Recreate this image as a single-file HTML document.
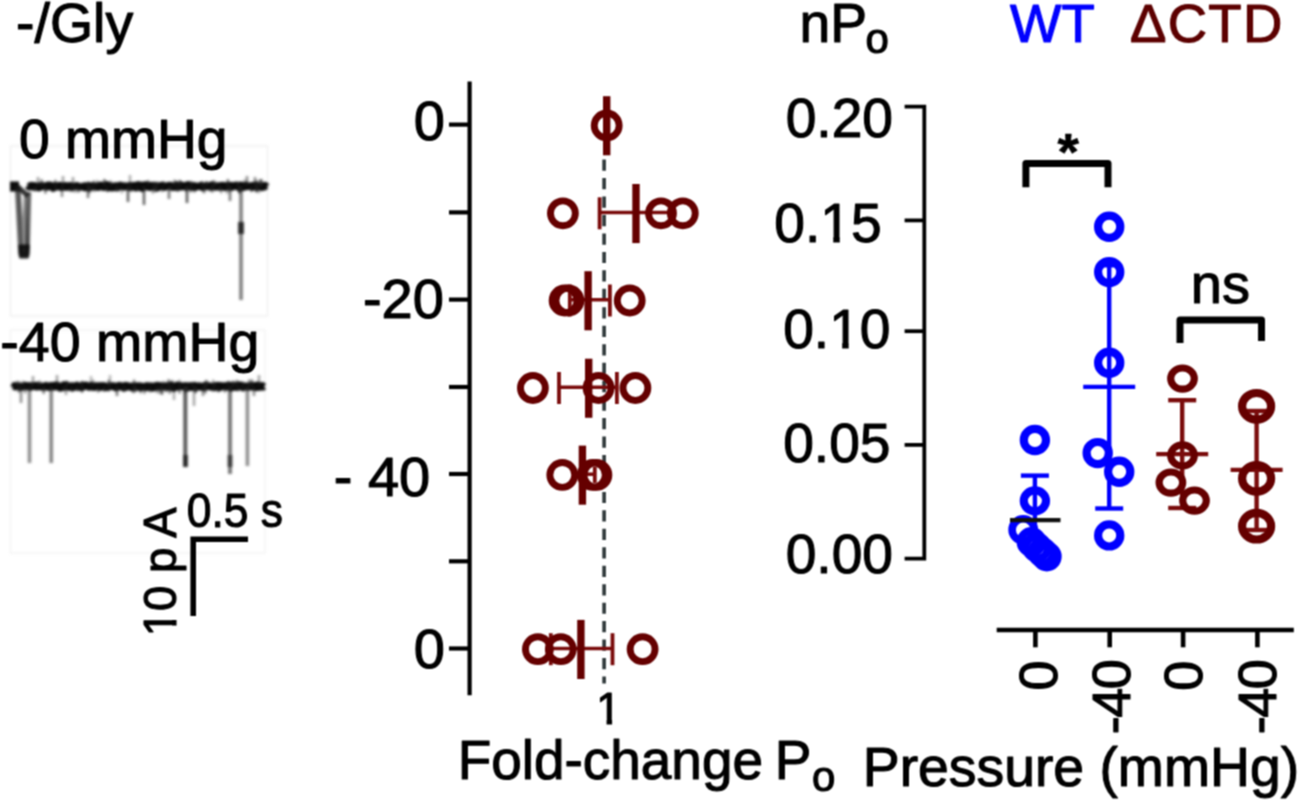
<!DOCTYPE html>
<html lang="en"><head><meta charset="utf-8"><title>Figure</title>
<style>html,body{margin:0;padding:0;background:#fff;}body{width:1300px;height:802px;overflow:hidden;}svg{display:block}</style>
</head><body>
<svg width="1300" height="802" viewBox="0 0 1300 802" font-family='"Liberation Sans", sans-serif'>
<defs>
<filter id="blur1" color-interpolation-filters="sRGB" x="-5%" y="-5%" width="110%" height="110%"><feGaussianBlur stdDeviation="0.85"/></filter>
<filter id="blur0" color-interpolation-filters="sRGB" x="0" y="0" width="100%" height="100%" filterUnits="objectBoundingBox"><feConvolveMatrix order="3" kernelMatrix="1 2 1 2 4 2 1 2 1" divisor="16" edgeMode="none" preserveAlpha="false"/></filter>
</defs>
<rect width="1300" height="802" fill="#fff"/>
<g filter="url(#blur0)">
<g filter="url(#blur1)">
<rect x="10.5" y="146" width="257" height="170" fill="none" stroke="#ddd" stroke-width="1.5" opacity="0.45"/>
<rect x="10.5" y="330" width="254.5" height="223" fill="none" stroke="#ddd" stroke-width="1.5" opacity="0.35"/>
<rect x="10" y="181.5" width="9" height="10" fill="#0a0a0a"/>
<path d="M28.0,185.6 L28.7,186.5 L29.4,186.8 L30.1,186.0 L30.8,185.6 L31.5,186.3 L32.2,186.6 L32.9,186.9 L33.6,185.6 L34.3,185.6 L35.0,186.7 L35.7,186.6 L36.4,187.1 L37.1,186.8 L37.8,186.2 L38.5,186.1 L39.2,187.7 L39.9,186.1 L40.6,185.9 L41.3,185.7 L42.0,186.4 L42.7,186.4 L43.4,186.1 L44.1,186.3 L44.8,186.5 L45.5,186.7 L46.2,186.9 L46.9,186.4 L47.6,185.3 L48.3,186.7 L49.0,185.5 L49.7,186.2 L50.4,185.5 L51.1,186.3 L51.8,185.9 L52.5,186.4 L53.2,188.1 L53.9,186.3 L54.6,186.8 L55.3,185.6 L56.0,186.1 L56.7,186.7 L57.4,186.2 L58.1,186.5 L58.8,186.4 L59.5,185.7 L60.2,186.6 L60.9,185.9 L61.6,187.3 L62.3,186.0 L63.0,186.7 L63.7,186.3 L64.4,186.8 L65.1,186.0 L65.8,186.8 L66.5,186.2 L67.2,187.0 L67.9,186.6 L68.6,186.4 L69.3,185.9 L70.0,186.7 L70.7,186.6 L71.4,187.2 L72.1,186.1 L72.8,186.6 L73.5,186.6 L74.2,186.5 L74.9,186.4 L75.6,186.4 L76.3,186.0 L77.0,185.7 L77.7,186.1 L78.4,186.6 L79.1,187.1 L79.8,186.8 L80.5,186.9 L81.2,186.7 L81.9,186.7 L82.6,186.4 L83.3,186.7 L84.0,187.3 L84.7,186.1 L85.4,185.9 L86.1,187.4 L86.8,186.4 L87.5,186.8 L88.2,186.8 L88.9,185.7 L89.6,187.6 L90.3,187.3 L91.0,186.4 L91.7,186.7 L92.4,186.4 L93.1,185.8 L93.8,186.2 L94.5,186.5 L95.2,186.9 L95.9,186.7 L96.6,186.3 L97.3,187.0 L98.0,185.9 L98.7,186.7 L99.4,186.9 L100.1,186.1 L100.8,185.3 L101.5,185.8 L102.2,186.4 L102.9,186.6 L103.6,187.2 L104.3,185.7 L105.0,186.3 L105.7,186.7 L106.4,186.2 L107.1,185.0 L107.8,186.7 L108.5,187.6 L109.2,186.9 L109.9,185.8 L110.6,186.1 L111.3,186.4 L112.0,187.7 L112.7,186.6 L113.4,186.4 L114.1,187.2 L114.8,186.3 L115.5,187.3 L116.2,185.9 L116.9,186.0 L117.6,186.7 L118.3,187.1 L119.0,186.7 L119.7,186.5 L120.4,185.3 L121.1,185.9 L121.8,186.0 L122.5,186.0 L123.2,186.6 L123.9,186.1 L124.6,186.7 L125.3,186.3 L126.0,186.1 L126.7,186.4 L127.4,186.5 L128.1,186.8 L128.8,186.0 L129.5,186.2 L130.2,185.6 L130.9,187.2 L131.6,187.1 L132.3,186.2 L133.0,186.0 L133.7,185.6 L134.4,186.4 L135.1,186.4 L135.8,187.5 L136.5,186.4 L137.2,185.9 L137.9,185.0 L138.6,187.1 L139.3,186.4 L140.0,185.4 L140.7,186.4 L141.4,185.4 L142.1,188.2 L142.8,186.9 L143.5,186.6 L144.2,186.2 L144.9,185.1 L145.6,186.2 L146.3,185.4 L147.0,186.6 L147.7,185.1 L148.4,185.8 L149.1,187.0 L149.8,187.2 L150.5,185.7 L151.2,185.5 L151.9,186.8 L152.6,186.8 L153.3,185.8 L154.0,185.9 L154.7,185.9 L155.4,185.6 L156.1,185.9 L156.8,187.0 L157.5,186.7 L158.2,187.4 L158.9,186.3 L159.6,186.2 L160.3,185.8 L161.0,186.2 L161.7,185.6 L162.4,185.3 L163.1,186.7 L163.8,187.1 L164.5,186.8 L165.2,187.0 L165.9,186.4 L166.6,185.9 L167.3,186.3 L168.0,186.1 L168.7,185.7 L169.4,185.4 L170.1,185.5 L170.8,186.3 L171.5,186.4 L172.2,186.0 L172.9,187.1 L173.6,186.4 L174.3,186.6 L175.0,187.0 L175.7,185.8 L176.4,185.2 L177.1,186.7 L177.8,185.9 L178.5,187.0 L179.2,186.5 L179.9,186.9 L180.6,186.7 L181.3,185.2 L182.0,186.7 L182.7,185.9 L183.4,185.9 L184.1,186.1 L184.8,186.7 L185.5,186.8 L186.2,186.9 L186.9,185.4 L187.6,186.0 L188.3,185.0 L189.0,186.2 L189.7,186.6 L190.4,185.9 L191.1,186.4 L191.8,186.4 L192.5,186.9 L193.2,185.8 L193.9,185.8 L194.6,185.9 L195.3,187.3 L196.0,186.9 L196.7,186.2 L197.4,186.4 L198.1,186.4 L198.8,186.4 L199.5,186.2 L200.2,186.1 L200.9,185.6 L201.6,185.9 L202.3,187.2 L203.0,186.6 L203.7,186.3 L204.4,186.2 L205.1,186.3 L205.8,186.5 L206.5,185.9 L207.2,186.4 L207.9,186.4 L208.6,185.9 L209.3,185.9 L210.0,185.8 L210.7,185.7 L211.4,186.8 L212.1,185.0 L212.8,186.2 L213.5,186.0 L214.2,186.0 L214.9,186.4 L215.6,186.9 L216.3,186.3 L217.0,186.2 L217.7,186.0 L218.4,186.2 L219.1,186.8 L219.8,186.1 L220.5,185.7 L221.2,185.6 L221.9,185.7 L222.6,185.5 L223.3,186.9 L224.0,186.5 L224.7,186.2 L225.4,187.1 L226.1,185.9 L226.8,186.7 L227.5,186.7 L228.2,185.4 L228.9,185.4 L229.6,185.8 L230.3,186.8 L231.0,187.0 L231.7,185.6 L232.4,186.9 L233.1,186.1 L233.8,186.1 L234.5,186.0 L235.2,186.1 L235.9,185.3 L236.6,185.7 L237.3,185.6 L238.0,186.6 L238.7,187.4 L239.4,187.8 L240.1,186.1 L240.8,185.4 L241.5,186.1 L242.2,185.8 L242.9,187.4 L243.6,186.6 L244.3,185.9 L245.0,186.8 L245.7,186.6 L246.4,185.4 L247.1,186.0 L247.8,186.2 L248.5,186.3 L249.2,186.4 L249.9,186.1 L250.6,186.4 L251.3,186.0 L252.0,185.8 L252.7,187.1 L253.4,186.5 L254.1,186.5 L254.8,185.4 L255.5,186.2 L256.2,186.8 L256.9,185.6 L257.6,186.9 L258.3,186.1 L259.0,186.5 L259.7,186.2 L260.4,186.4 L261.1,187.0 L261.8,186.1 L262.5,187.2 L263.2,185.9 L263.9,185.8 L264.6,186.7 L265.3,185.7 L266.0,186.1 L266.7,186.8" fill="none" stroke="#0a0a0a" stroke-width="7.4" stroke-linejoin="round"/>
<line x1="227.9" y1="186.3" x2="227.9" y2="179.1" stroke="#222" stroke-width="2.4" opacity="0.60"/>
<line x1="256.6" y1="186.3" x2="256.6" y2="192.4" stroke="#222" stroke-width="2.4" opacity="0.37"/>
<line x1="155.9" y1="186.3" x2="155.9" y2="192.3" stroke="#222" stroke-width="2.4" opacity="0.31"/>
<line x1="256.9" y1="186.3" x2="256.9" y2="180.3" stroke="#222" stroke-width="2.4" opacity="0.58"/>
<line x1="162.1" y1="186.3" x2="162.1" y2="192.3" stroke="#222" stroke-width="2.4" opacity="0.32"/>
<line x1="156.5" y1="186.3" x2="156.5" y2="192.0" stroke="#222" stroke-width="2.4" opacity="0.62"/>
<line x1="93.7" y1="186.3" x2="93.7" y2="180.4" stroke="#222" stroke-width="2.4" opacity="0.45"/>
<line x1="221.1" y1="186.3" x2="221.1" y2="193.5" stroke="#222" stroke-width="2.4" opacity="0.41"/>
<line x1="75.6" y1="186.3" x2="75.6" y2="192.7" stroke="#222" stroke-width="2.4" opacity="0.35"/>
<line x1="212.6" y1="186.3" x2="212.6" y2="181.7" stroke="#222" stroke-width="2.4" opacity="0.38"/>
<line x1="191.1" y1="186.3" x2="191.1" y2="180.8" stroke="#222" stroke-width="2.4" opacity="0.52"/>
<line x1="55.4" y1="186.3" x2="55.4" y2="179.6" stroke="#222" stroke-width="2.4" opacity="0.48"/>
<line x1="89.4" y1="186.3" x2="89.4" y2="191.4" stroke="#222" stroke-width="2.4" opacity="0.45"/>
<line x1="118.5" y1="186.3" x2="118.5" y2="192.0" stroke="#222" stroke-width="2.4" opacity="0.36"/>
<line x1="78.6" y1="186.3" x2="78.6" y2="192.7" stroke="#222" stroke-width="2.4" opacity="0.49"/>
<line x1="229.3" y1="186.3" x2="229.3" y2="192.6" stroke="#222" stroke-width="2.4" opacity="0.38"/>
<line x1="203.6" y1="186.3" x2="203.6" y2="193.2" stroke="#222" stroke-width="2.4" opacity="0.41"/>
<line x1="104.4" y1="186.3" x2="104.4" y2="179.0" stroke="#222" stroke-width="2.4" opacity="0.65"/>
<line x1="237.8" y1="186.3" x2="237.8" y2="181.4" stroke="#222" stroke-width="2.4" opacity="0.55"/>
<line x1="91.5" y1="186.3" x2="91.5" y2="191.1" stroke="#222" stroke-width="2.4" opacity="0.45"/>
<line x1="215.1" y1="186.3" x2="215.1" y2="181.4" stroke="#222" stroke-width="2.4" opacity="0.54"/>
<line x1="35.1" y1="186.3" x2="35.1" y2="191.4" stroke="#222" stroke-width="2.4" opacity="0.62"/>
<line x1="256.6" y1="186.3" x2="256.6" y2="191.1" stroke="#222" stroke-width="2.4" opacity="0.57"/>
<line x1="148.1" y1="186.3" x2="148.1" y2="179.7" stroke="#222" stroke-width="2.4" opacity="0.32"/>
<line x1="55.7" y1="186.3" x2="55.7" y2="190.9" stroke="#222" stroke-width="2.4" opacity="0.48"/>
<line x1="163.5" y1="186.3" x2="163.5" y2="181.4" stroke="#222" stroke-width="2.4" opacity="0.37"/>
<line x1="226.8" y1="186.3" x2="226.8" y2="193.8" stroke="#222" stroke-width="2.4" opacity="0.33"/>
<line x1="45.4" y1="186.3" x2="45.4" y2="193.7" stroke="#222" stroke-width="2.4" opacity="0.57"/>
<line x1="107.2" y1="186.3" x2="107.2" y2="192.2" stroke="#222" stroke-width="2.4" opacity="0.45"/>
<line x1="171.0" y1="186.3" x2="171.0" y2="190.8" stroke="#222" stroke-width="2.4" opacity="0.60"/>
<line x1="73.2" y1="186.3" x2="73.2" y2="192.2" stroke="#222" stroke-width="2.4" opacity="0.44"/>
<line x1="76.5" y1="186.3" x2="76.5" y2="191.3" stroke="#222" stroke-width="2.4" opacity="0.31"/>
<line x1="239.1" y1="186.3" x2="239.1" y2="193.2" stroke="#222" stroke-width="2.4" opacity="0.60"/>
<line x1="177.6" y1="186.3" x2="177.6" y2="192.0" stroke="#222" stroke-width="2.4" opacity="0.48"/>
<line x1="260.0" y1="186.3" x2="260.0" y2="179.4" stroke="#222" stroke-width="2.4" opacity="0.62"/>
<line x1="204.5" y1="186.3" x2="204.5" y2="193.1" stroke="#222" stroke-width="2.4" opacity="0.44"/>
<line x1="239.9" y1="186.3" x2="239.9" y2="193.4" stroke="#222" stroke-width="2.4" opacity="0.57"/>
<line x1="209.3" y1="186.3" x2="209.3" y2="192.0" stroke="#222" stroke-width="2.4" opacity="0.32"/>
<line x1="110.6" y1="186.3" x2="110.6" y2="180.4" stroke="#222" stroke-width="2.4" opacity="0.42"/>
<line x1="179.8" y1="186.3" x2="179.8" y2="179.9" stroke="#222" stroke-width="2.4" opacity="0.63"/>
<line x1="186.2" y1="186.3" x2="186.2" y2="191.8" stroke="#222" stroke-width="2.4" opacity="0.50"/>
<line x1="155.2" y1="186.3" x2="155.2" y2="192.0" stroke="#222" stroke-width="2.4" opacity="0.52"/>
<line x1="194.4" y1="186.3" x2="194.4" y2="193.1" stroke="#222" stroke-width="2.4" opacity="0.31"/>
<line x1="174.4" y1="186.3" x2="174.4" y2="179.6" stroke="#222" stroke-width="2.4" opacity="0.44"/>
<line x1="42.8" y1="186.3" x2="42.8" y2="181.2" stroke="#222" stroke-width="2.4" opacity="0.33"/>
<line x1="89.5" y1="186.3" x2="89.5" y2="193.5" stroke="#222" stroke-width="2.4" opacity="0.48"/>
<line x1="256.3" y1="186.3" x2="256.3" y2="192.5" stroke="#222" stroke-width="2.4" opacity="0.52"/>
<line x1="219.6" y1="186.3" x2="219.6" y2="191.0" stroke="#222" stroke-width="2.4" opacity="0.57"/>
<line x1="41.5" y1="186.3" x2="41.5" y2="179.0" stroke="#222" stroke-width="2.4" opacity="0.47"/>
<line x1="70.4" y1="186.3" x2="70.4" y2="192.3" stroke="#222" stroke-width="2.4" opacity="0.32"/>
<line x1="251.2" y1="186.3" x2="251.2" y2="192.1" stroke="#222" stroke-width="2.4" opacity="0.51"/>
<line x1="116.2" y1="186.3" x2="116.2" y2="191.7" stroke="#222" stroke-width="2.4" opacity="0.50"/>
<line x1="97.1" y1="186.3" x2="97.1" y2="179.7" stroke="#222" stroke-width="2.4" opacity="0.30"/>
<line x1="88.1" y1="186.3" x2="88.1" y2="181.7" stroke="#222" stroke-width="2.4" opacity="0.56"/>
<line x1="121.9" y1="186.3" x2="121.9" y2="193.5" stroke="#222" stroke-width="2.4" opacity="0.32"/>
<line x1="261.4" y1="186.3" x2="261.4" y2="179.0" stroke="#222" stroke-width="2.4" opacity="0.62"/>
<line x1="131.1" y1="186.3" x2="131.1" y2="192.2" stroke="#222" stroke-width="2.4" opacity="0.39"/>
<line x1="152.9" y1="186.3" x2="152.9" y2="193.6" stroke="#222" stroke-width="2.4" opacity="0.46"/>
<line x1="259.1" y1="186.3" x2="259.1" y2="193.3" stroke="#222" stroke-width="2.4" opacity="0.34"/>
<line x1="176.4" y1="186.3" x2="176.4" y2="180.4" stroke="#222" stroke-width="2.4" opacity="0.32"/>
<line x1="154.0" y1="186.3" x2="154.0" y2="181.4" stroke="#222" stroke-width="2.4" opacity="0.53"/>
<line x1="137.1" y1="186.3" x2="137.1" y2="191.6" stroke="#222" stroke-width="2.4" opacity="0.45"/>
<line x1="212.3" y1="186.3" x2="212.3" y2="192.4" stroke="#222" stroke-width="2.4" opacity="0.63"/>
<line x1="202.1" y1="186.3" x2="202.1" y2="181.1" stroke="#222" stroke-width="2.4" opacity="0.61"/>
<line x1="213.7" y1="186.3" x2="213.7" y2="179.9" stroke="#222" stroke-width="2.4" opacity="0.40"/>
<line x1="190.6" y1="186.3" x2="190.6" y2="192.5" stroke="#222" stroke-width="2.4" opacity="0.52"/>
<line x1="206.5" y1="186.3" x2="206.5" y2="181.2" stroke="#222" stroke-width="2.4" opacity="0.64"/>
<line x1="244.4" y1="186.3" x2="244.4" y2="179.2" stroke="#222" stroke-width="2.4" opacity="0.32"/>
<line x1="94.1" y1="186.3" x2="94.1" y2="192.1" stroke="#222" stroke-width="2.4" opacity="0.34"/>
<line x1="157.2" y1="186.3" x2="157.2" y2="181.6" stroke="#222" stroke-width="2.4" opacity="0.54"/>
<line x1="62" y1="186.3" x2="62" y2="197" stroke="#222" stroke-width="2.6" opacity="0.5"/>
<line x1="88" y1="186.3" x2="88" y2="198" stroke="#222" stroke-width="2.6" opacity="0.6"/>
<line x1="128" y1="186.3" x2="128" y2="202" stroke="#222" stroke-width="2.6" opacity="0.7"/>
<line x1="144" y1="186.3" x2="144" y2="205" stroke="#222" stroke-width="2.6" opacity="0.7"/>
<line x1="169" y1="186.3" x2="169" y2="199" stroke="#222" stroke-width="2.6" opacity="0.6"/>
<line x1="187" y1="186.3" x2="187" y2="203" stroke="#222" stroke-width="2.6" opacity="0.75"/>
<line x1="230" y1="186.3" x2="230" y2="201" stroke="#222" stroke-width="2.6" opacity="0.6"/>
<line x1="38" y1="186.3" x2="38" y2="177" stroke="#222" stroke-width="2.6" opacity="0.4"/>
<line x1="63" y1="186.3" x2="63" y2="176" stroke="#222" stroke-width="2.6" opacity="0.4"/>
<line x1="73" y1="186.3" x2="73" y2="177" stroke="#222" stroke-width="2.6" opacity="0.4"/>
<line x1="130" y1="186.3" x2="130" y2="175" stroke="#222" stroke-width="2.6" opacity="0.35"/>
<line x1="247" y1="186.3" x2="247" y2="176" stroke="#222" stroke-width="2.6" opacity="0.5"/>
<line x1="255" y1="186.3" x2="255" y2="177" stroke="#222" stroke-width="2.6" opacity="0.5"/>
<line x1="241" y1="186.3" x2="241" y2="300" stroke="#222" stroke-width="3.8" opacity="0.55"/>
<path d="M17,186 L20.5,254 L27.5,254 L29,192" fill="none" stroke="#222" stroke-width="4.5" opacity="0.7" stroke-linejoin="round"/>
<path d="M19,186 L23,250 L25.5,196 L27,250" fill="none" stroke="#222" stroke-width="3.5" opacity="0.55"/>
<path d="M17,186 L28,196" fill="none" stroke="#111" stroke-width="5" opacity="0.85"/>
<path d="M19.5,246 L20.5,257 L27.5,257 L28.5,246 Z" fill="#0a0a0a" stroke="#0a0a0a" stroke-width="3" stroke-linejoin="round" opacity="0.9"/>
<rect x="238" y="222" width="6" height="12" fill="#111" opacity="0.8"/>
<path d="M14.0,387.7 L14.7,385.9 L15.4,386.7 L16.1,386.4 L16.8,386.0 L17.5,386.2 L18.2,386.2 L18.9,386.4 L19.6,386.7 L20.3,387.1 L21.0,386.6 L21.7,387.1 L22.4,386.7 L23.1,386.5 L23.8,386.4 L24.5,385.9 L25.2,385.6 L25.9,386.4 L26.6,386.4 L27.3,386.6 L28.0,386.7 L28.7,385.8 L29.4,386.1 L30.1,385.9 L30.8,387.0 L31.5,386.4 L32.2,386.5 L32.9,386.0 L33.6,385.8 L34.3,386.1 L35.0,386.4 L35.7,386.7 L36.4,385.6 L37.1,386.6 L37.8,386.0 L38.5,386.2 L39.2,386.3 L39.9,386.2 L40.6,386.7 L41.3,386.9 L42.0,386.6 L42.7,386.2 L43.4,386.7 L44.1,386.7 L44.8,386.9 L45.5,386.6 L46.2,385.6 L46.9,386.0 L47.6,386.2 L48.3,387.0 L49.0,386.4 L49.7,387.0 L50.4,386.6 L51.1,385.8 L51.8,386.5 L52.5,386.8 L53.2,386.7 L53.9,385.7 L54.6,386.7 L55.3,386.1 L56.0,385.3 L56.7,386.2 L57.4,385.4 L58.1,385.8 L58.8,387.2 L59.5,387.8 L60.2,387.0 L60.9,386.7 L61.6,387.5 L62.3,386.6 L63.0,385.9 L63.7,385.1 L64.4,387.0 L65.1,385.2 L65.8,384.9 L66.5,386.1 L67.2,386.5 L67.9,386.0 L68.6,387.0 L69.3,386.4 L70.0,386.6 L70.7,386.7 L71.4,386.1 L72.1,386.6 L72.8,387.7 L73.5,386.0 L74.2,386.6 L74.9,386.8 L75.6,386.2 L76.3,386.4 L77.0,385.5 L77.7,386.2 L78.4,386.5 L79.1,387.1 L79.8,387.0 L80.5,386.2 L81.2,385.9 L81.9,387.5 L82.6,387.0 L83.3,385.4 L84.0,386.3 L84.7,386.0 L85.4,386.1 L86.1,385.5 L86.8,386.2 L87.5,386.2 L88.2,386.3 L88.9,387.0 L89.6,386.6 L90.3,385.8 L91.0,385.5 L91.7,386.2 L92.4,387.1 L93.1,387.0 L93.8,386.2 L94.5,387.1 L95.2,386.7 L95.9,386.1 L96.6,386.7 L97.3,386.4 L98.0,385.9 L98.7,386.2 L99.4,386.6 L100.1,387.2 L100.8,385.9 L101.5,386.6 L102.2,386.5 L102.9,386.5 L103.6,385.8 L104.3,387.2 L105.0,387.2 L105.7,387.4 L106.4,386.7 L107.1,387.3 L107.8,386.8 L108.5,387.0 L109.2,386.3 L109.9,386.6 L110.6,386.3 L111.3,385.9 L112.0,386.2 L112.7,385.9 L113.4,385.9 L114.1,386.3 L114.8,386.2 L115.5,387.6 L116.2,387.5 L116.9,387.1 L117.6,386.9 L118.3,386.0 L119.0,386.6 L119.7,385.7 L120.4,386.1 L121.1,386.2 L121.8,386.3 L122.5,387.0 L123.2,386.1 L123.9,387.8 L124.6,386.2 L125.3,387.0 L126.0,385.6 L126.7,387.0 L127.4,385.8 L128.1,386.6 L128.8,386.5 L129.5,386.9 L130.2,386.8 L130.9,386.7 L131.6,386.4 L132.3,387.6 L133.0,386.2 L133.7,386.5 L134.4,386.2 L135.1,386.6 L135.8,386.0 L136.5,386.3 L137.2,386.8 L137.9,386.2 L138.6,386.7 L139.3,386.2 L140.0,387.3 L140.7,386.4 L141.4,387.5 L142.1,386.8 L142.8,386.4 L143.5,387.0 L144.2,387.1 L144.9,387.3 L145.6,387.3 L146.3,387.0 L147.0,385.8 L147.7,387.0 L148.4,386.4 L149.1,386.7 L149.8,387.2 L150.5,386.1 L151.2,387.2 L151.9,387.8 L152.6,386.8 L153.3,386.3 L154.0,387.3 L154.7,386.6 L155.4,387.1 L156.1,387.2 L156.8,385.7 L157.5,386.7 L158.2,385.6 L158.9,386.1 L159.6,386.8 L160.3,385.8 L161.0,386.1 L161.7,386.2 L162.4,386.7 L163.1,386.7 L163.8,386.7 L164.5,386.2 L165.2,386.1 L165.9,386.7 L166.6,386.0 L167.3,386.0 L168.0,386.9 L168.7,386.0 L169.4,386.0 L170.1,387.1 L170.8,386.5 L171.5,385.2 L172.2,386.1 L172.9,387.6 L173.6,388.1 L174.3,386.3 L175.0,386.9 L175.7,386.9 L176.4,386.7 L177.1,385.5 L177.8,387.0 L178.5,386.6 L179.2,386.4 L179.9,385.6 L180.6,386.1 L181.3,386.4 L182.0,386.3 L182.7,386.6 L183.4,386.3 L184.1,387.0 L184.8,386.8 L185.5,385.8 L186.2,386.1 L186.9,386.7 L187.6,386.2 L188.3,387.3 L189.0,386.2 L189.7,386.6 L190.4,386.8 L191.1,385.9 L191.8,387.2 L192.5,386.4 L193.2,386.1 L193.9,386.1 L194.6,385.5 L195.3,385.7 L196.0,387.3 L196.7,386.4 L197.4,386.3 L198.1,386.6 L198.8,386.8 L199.5,386.0 L200.2,386.4 L200.9,386.6 L201.6,387.0 L202.3,386.6 L203.0,387.4 L203.7,386.4 L204.4,386.3 L205.1,385.7 L205.8,386.5 L206.5,386.8 L207.2,386.3 L207.9,386.4 L208.6,385.9 L209.3,386.2 L210.0,386.2 L210.7,386.4 L211.4,387.1 L212.1,386.8 L212.8,387.0 L213.5,387.1 L214.2,386.2 L214.9,387.2 L215.6,386.5 L216.3,385.7 L217.0,386.1 L217.7,386.4 L218.4,385.6 L219.1,387.7 L219.8,386.4 L220.5,386.9 L221.2,385.8 L221.9,386.5 L222.6,386.6 L223.3,386.1 L224.0,386.6 L224.7,386.5 L225.4,386.7 L226.1,385.8 L226.8,386.8 L227.5,386.3 L228.2,386.0 L228.9,385.3 L229.6,386.4 L230.3,386.3 L231.0,387.8 L231.7,385.8 L232.4,387.3 L233.1,387.2 L233.8,386.7 L234.5,386.6 L235.2,386.7 L235.9,385.7 L236.6,387.2 L237.3,386.3 L238.0,386.1 L238.7,386.5 L239.4,385.0 L240.1,385.7 L240.8,385.8 L241.5,385.6 L242.2,386.8 L242.9,387.3 L243.6,386.5 L244.3,386.3 L245.0,386.6 L245.7,386.2 L246.4,386.5 L247.1,386.7 L247.8,386.3 L248.5,386.2 L249.2,386.5 L249.9,386.5 L250.6,386.8 L251.3,385.6 L252.0,385.9 L252.7,386.2 L253.4,386.7 L254.1,385.8 L254.8,387.1 L255.5,387.3 L256.2,386.1 L256.9,387.1 L257.6,385.3 L258.3,386.4 L259.0,385.6 L259.7,387.1 L260.4,386.9 L261.1,386.7 L261.8,386.1 L262.5,385.8 L263.2,386.7 L263.9,386.2" fill="none" stroke="#0a0a0a" stroke-width="7.4" stroke-linejoin="round"/>
<line x1="213.2" y1="386.5" x2="213.2" y2="379.6" stroke="#222" stroke-width="2.4" opacity="0.35"/>
<line x1="159.3" y1="386.5" x2="159.3" y2="393.9" stroke="#222" stroke-width="2.4" opacity="0.45"/>
<line x1="140.7" y1="386.5" x2="140.7" y2="393.4" stroke="#222" stroke-width="2.4" opacity="0.49"/>
<line x1="161.8" y1="386.5" x2="161.8" y2="393.8" stroke="#222" stroke-width="2.4" opacity="0.59"/>
<line x1="82.0" y1="386.5" x2="82.0" y2="392.8" stroke="#222" stroke-width="2.4" opacity="0.55"/>
<line x1="249.2" y1="386.5" x2="249.2" y2="379.3" stroke="#222" stroke-width="2.4" opacity="0.48"/>
<line x1="104.3" y1="386.5" x2="104.3" y2="391.6" stroke="#222" stroke-width="2.4" opacity="0.64"/>
<line x1="204.5" y1="386.5" x2="204.5" y2="381.7" stroke="#222" stroke-width="2.4" opacity="0.43"/>
<line x1="233.0" y1="386.5" x2="233.0" y2="380.6" stroke="#222" stroke-width="2.4" opacity="0.49"/>
<line x1="77.3" y1="386.5" x2="77.3" y2="391.1" stroke="#222" stroke-width="2.4" opacity="0.65"/>
<line x1="206.3" y1="386.5" x2="206.3" y2="379.8" stroke="#222" stroke-width="2.4" opacity="0.50"/>
<line x1="172.4" y1="386.5" x2="172.4" y2="379.7" stroke="#222" stroke-width="2.4" opacity="0.32"/>
<line x1="243.4" y1="386.5" x2="243.4" y2="391.8" stroke="#222" stroke-width="2.4" opacity="0.46"/>
<line x1="207.1" y1="386.5" x2="207.1" y2="381.0" stroke="#222" stroke-width="2.4" opacity="0.45"/>
<line x1="134.1" y1="386.5" x2="134.1" y2="379.6" stroke="#222" stroke-width="2.4" opacity="0.53"/>
<line x1="108.8" y1="386.5" x2="108.8" y2="379.8" stroke="#222" stroke-width="2.4" opacity="0.61"/>
<line x1="247.4" y1="386.5" x2="247.4" y2="391.1" stroke="#222" stroke-width="2.4" opacity="0.57"/>
<line x1="186.1" y1="386.5" x2="186.1" y2="391.3" stroke="#222" stroke-width="2.4" opacity="0.57"/>
<line x1="169.8" y1="386.5" x2="169.8" y2="393.9" stroke="#222" stroke-width="2.4" opacity="0.52"/>
<line x1="242.7" y1="386.5" x2="242.7" y2="381.6" stroke="#222" stroke-width="2.4" opacity="0.49"/>
<line x1="144.5" y1="386.5" x2="144.5" y2="393.9" stroke="#222" stroke-width="2.4" opacity="0.52"/>
<line x1="168.6" y1="386.5" x2="168.6" y2="379.2" stroke="#222" stroke-width="2.4" opacity="0.56"/>
<line x1="163.4" y1="386.5" x2="163.4" y2="380.8" stroke="#222" stroke-width="2.4" opacity="0.35"/>
<line x1="19.7" y1="386.5" x2="19.7" y2="381.0" stroke="#222" stroke-width="2.4" opacity="0.33"/>
<line x1="135.5" y1="386.5" x2="135.5" y2="392.1" stroke="#222" stroke-width="2.4" opacity="0.57"/>
<line x1="179.3" y1="386.5" x2="179.3" y2="379.5" stroke="#222" stroke-width="2.4" opacity="0.34"/>
<line x1="165.8" y1="386.5" x2="165.8" y2="391.7" stroke="#222" stroke-width="2.4" opacity="0.45"/>
<line x1="233.2" y1="386.5" x2="233.2" y2="381.3" stroke="#222" stroke-width="2.4" opacity="0.52"/>
<line x1="186.1" y1="386.5" x2="186.1" y2="391.8" stroke="#222" stroke-width="2.4" opacity="0.64"/>
<line x1="184.7" y1="386.5" x2="184.7" y2="393.9" stroke="#222" stroke-width="2.4" opacity="0.35"/>
<line x1="195.2" y1="386.5" x2="195.2" y2="393.2" stroke="#222" stroke-width="2.4" opacity="0.42"/>
<line x1="149.6" y1="386.5" x2="149.6" y2="392.8" stroke="#222" stroke-width="2.4" opacity="0.32"/>
<line x1="108.6" y1="386.5" x2="108.6" y2="391.9" stroke="#222" stroke-width="2.4" opacity="0.34"/>
<line x1="32.1" y1="386.5" x2="32.1" y2="381.7" stroke="#222" stroke-width="2.4" opacity="0.45"/>
<line x1="228.2" y1="386.5" x2="228.2" y2="380.9" stroke="#222" stroke-width="2.4" opacity="0.53"/>
<line x1="98.2" y1="386.5" x2="98.2" y2="392.7" stroke="#222" stroke-width="2.4" opacity="0.46"/>
<line x1="195.9" y1="386.5" x2="195.9" y2="392.9" stroke="#222" stroke-width="2.4" opacity="0.57"/>
<line x1="236.9" y1="386.5" x2="236.9" y2="379.8" stroke="#222" stroke-width="2.4" opacity="0.48"/>
<line x1="205.4" y1="386.5" x2="205.4" y2="393.4" stroke="#222" stroke-width="2.4" opacity="0.60"/>
<line x1="218.2" y1="386.5" x2="218.2" y2="392.6" stroke="#222" stroke-width="2.4" opacity="0.32"/>
<line x1="133.5" y1="386.5" x2="133.5" y2="393.2" stroke="#222" stroke-width="2.4" opacity="0.60"/>
<line x1="124.2" y1="386.5" x2="124.2" y2="391.7" stroke="#222" stroke-width="2.4" opacity="0.53"/>
<line x1="63.7" y1="386.5" x2="63.7" y2="391.1" stroke="#222" stroke-width="2.4" opacity="0.50"/>
<line x1="43.7" y1="386.5" x2="43.7" y2="394.0" stroke="#222" stroke-width="2.4" opacity="0.57"/>
<line x1="213.8" y1="386.5" x2="213.8" y2="391.8" stroke="#222" stroke-width="2.4" opacity="0.36"/>
<line x1="166.4" y1="386.5" x2="166.4" y2="392.3" stroke="#222" stroke-width="2.4" opacity="0.34"/>
<line x1="67.2" y1="386.5" x2="67.2" y2="380.8" stroke="#222" stroke-width="2.4" opacity="0.44"/>
<line x1="251.9" y1="386.5" x2="251.9" y2="379.4" stroke="#222" stroke-width="2.4" opacity="0.59"/>
<line x1="71.9" y1="386.5" x2="71.9" y2="391.7" stroke="#222" stroke-width="2.4" opacity="0.40"/>
<line x1="66.1" y1="386.5" x2="66.1" y2="381.7" stroke="#222" stroke-width="2.4" opacity="0.37"/>
<line x1="239.5" y1="386.5" x2="239.5" y2="391.1" stroke="#222" stroke-width="2.4" opacity="0.37"/>
<line x1="192.7" y1="386.5" x2="192.7" y2="382.0" stroke="#222" stroke-width="2.4" opacity="0.56"/>
<line x1="23.3" y1="386.5" x2="23.3" y2="380.8" stroke="#222" stroke-width="2.4" opacity="0.47"/>
<line x1="170.4" y1="386.5" x2="170.4" y2="391.2" stroke="#222" stroke-width="2.4" opacity="0.39"/>
<line x1="205.4" y1="386.5" x2="205.4" y2="381.6" stroke="#222" stroke-width="2.4" opacity="0.37"/>
<line x1="37.5" y1="386.5" x2="37.5" y2="381.3" stroke="#222" stroke-width="2.4" opacity="0.33"/>
<line x1="224.9" y1="386.5" x2="224.9" y2="392.6" stroke="#222" stroke-width="2.4" opacity="0.48"/>
<line x1="214.8" y1="386.5" x2="214.8" y2="381.9" stroke="#222" stroke-width="2.4" opacity="0.53"/>
<line x1="18.7" y1="386.5" x2="18.7" y2="392.5" stroke="#222" stroke-width="2.4" opacity="0.60"/>
<line x1="17.2" y1="386.5" x2="17.2" y2="380.8" stroke="#222" stroke-width="2.4" opacity="0.50"/>
<line x1="25.1" y1="386.5" x2="25.1" y2="393.3" stroke="#222" stroke-width="2.4" opacity="0.49"/>
<line x1="179.6" y1="386.5" x2="179.6" y2="393.5" stroke="#222" stroke-width="2.4" opacity="0.59"/>
<line x1="135.9" y1="386.5" x2="135.9" y2="391.3" stroke="#222" stroke-width="2.4" opacity="0.60"/>
<line x1="188.0" y1="386.5" x2="188.0" y2="391.9" stroke="#222" stroke-width="2.4" opacity="0.52"/>
<line x1="93.2" y1="386.5" x2="93.2" y2="379.6" stroke="#222" stroke-width="2.4" opacity="0.38"/>
<line x1="237.9" y1="386.5" x2="237.9" y2="391.2" stroke="#222" stroke-width="2.4" opacity="0.44"/>
<line x1="156.6" y1="386.5" x2="156.6" y2="393.1" stroke="#222" stroke-width="2.4" opacity="0.38"/>
<line x1="39.7" y1="386.5" x2="39.7" y2="380.5" stroke="#222" stroke-width="2.4" opacity="0.45"/>
<line x1="43.9" y1="386.5" x2="43.9" y2="391.3" stroke="#222" stroke-width="2.4" opacity="0.32"/>
<line x1="82.1" y1="386.5" x2="82.1" y2="380.8" stroke="#222" stroke-width="2.4" opacity="0.58"/>
<line x1="21" y1="386.5" x2="21" y2="403" stroke="#222" stroke-width="2.6" opacity="0.5"/>
<line x1="66" y1="386.5" x2="66" y2="395" stroke="#222" stroke-width="2.6" opacity="0.4"/>
<line x1="117" y1="386.5" x2="117" y2="396" stroke="#222" stroke-width="2.6" opacity="0.6"/>
<line x1="162" y1="386.5" x2="162" y2="395" stroke="#222" stroke-width="2.6" opacity="0.5"/>
<line x1="174" y1="386.5" x2="174" y2="400" stroke="#222" stroke-width="2.6" opacity="0.35"/>
<line x1="194" y1="386.5" x2="194" y2="406" stroke="#222" stroke-width="2.6" opacity="0.4"/>
<line x1="203" y1="386.5" x2="203" y2="396" stroke="#222" stroke-width="2.6" opacity="0.5"/>
<line x1="254" y1="386.5" x2="254" y2="396" stroke="#222" stroke-width="2.6" opacity="0.5"/>
<line x1="33" y1="386.5" x2="33" y2="376" stroke="#222" stroke-width="2.6" opacity="0.4"/>
<line x1="57" y1="386.5" x2="57" y2="375" stroke="#222" stroke-width="2.6" opacity="0.4"/>
<line x1="91" y1="386.5" x2="91" y2="376" stroke="#222" stroke-width="2.6" opacity="0.3"/>
<line x1="110" y1="386.5" x2="110" y2="375" stroke="#222" stroke-width="2.6" opacity="0.3"/>
<line x1="259" y1="386.5" x2="259" y2="375" stroke="#222" stroke-width="2.6" opacity="0.4"/>
<line x1="29.5" y1="386.5" x2="29.5" y2="463" stroke="#222" stroke-width="3.6" opacity="0.5"/>
<line x1="51.2" y1="386.5" x2="51.2" y2="463" stroke="#222" stroke-width="3.6" opacity="0.55"/>
<line x1="185.3" y1="386.5" x2="185.3" y2="467" stroke="#222" stroke-width="4" opacity="0.75"/>
<line x1="230" y1="386.5" x2="230" y2="474" stroke="#222" stroke-width="4" opacity="0.6"/>
<line x1="247.4" y1="386.5" x2="247.4" y2="466" stroke="#222" stroke-width="3.6" opacity="0.5"/>
<rect x="183" y="455" width="5" height="12" fill="#111" opacity="0.7"/>
<rect x="227.5" y="455" width="5" height="12" fill="#111" opacity="0.6"/>
</g>
<text transform="translate(16,41.7)" font-size="55.5" fill="#000" stroke="#000" stroke-width="1.1" stroke-linejoin="round" text-anchor="start" >-/Gly</text>
<text transform="translate(19,157.5)" font-size="55.2" fill="#000" stroke="#000" stroke-width="1.1" stroke-linejoin="round" text-anchor="start" >0 mmHg</text>
<text transform="translate(0.3,361)" font-size="55.5" fill="#000" stroke="#000" stroke-width="1.1" stroke-linejoin="round" text-anchor="start" >-40 mmHg</text>
<path d="M193.2,616 V539.3 H248" fill="none" stroke="#000" stroke-width="5.6"/>
<text transform="translate(186.8,526.5) scale(0.91,1)" font-size="48.8" fill="#000" stroke="#000" stroke-width="1.1" stroke-linejoin="round" text-anchor="start" >0.5 s</text>
<clipPath id="nf1"><path clip-rule="evenodd" d="M-2000,-2000 H2000 V2000 H-2000 Z M0.93,-4.64 H10.90 V2.05 H0.93 Z M16.60,-4.64 H26.10 V2.05 H16.60 Z"/></clipPath>
<text transform="translate(175.6,636.2) rotate(-90) scale(0.975,1)" clip-path="url(#nf1)" font-size="46.6" fill="#000" stroke="#000" stroke-width="1.1" stroke-linejoin="round" text-anchor="start" >10 p A</text>
<line x1="469.6" y1="81.5" x2="469.6" y2="695.3" stroke="#000" stroke-width="4.2"/>
<line x1="449" y1="124.6" x2="469.6" y2="124.6" stroke="#000" stroke-width="4.2"/>
<line x1="449" y1="212.4" x2="469.6" y2="212.4" stroke="#000" stroke-width="4.2"/>
<line x1="449" y1="299.6" x2="469.6" y2="299.6" stroke="#000" stroke-width="4.2"/>
<line x1="449" y1="387.0" x2="469.6" y2="387.0" stroke="#000" stroke-width="4.2"/>
<line x1="449" y1="474.0" x2="469.6" y2="474.0" stroke="#000" stroke-width="4.2"/>
<line x1="449" y1="561.3" x2="469.6" y2="561.3" stroke="#000" stroke-width="4.2"/>
<line x1="449" y1="648.5" x2="469.6" y2="648.5" stroke="#000" stroke-width="4.2"/>
<line x1="604.1" y1="159.6" x2="604.1" y2="683.5" stroke="#2f383a" stroke-width="3.6" stroke-dasharray="11.2 7.26"/>
<text transform="translate(444.8,139.6)" font-size="56" fill="#000" stroke="#000" stroke-width="1.1" stroke-linejoin="round" text-anchor="end" >0</text>
<text transform="translate(443.9,318.2)" font-size="56" fill="#000" stroke="#000" stroke-width="1.1" stroke-linejoin="round" text-anchor="end" >-20</text>
<text transform="translate(430.2,495.7)" font-size="56" fill="#000" stroke="#000" stroke-width="1.1" stroke-linejoin="round" text-anchor="end" >- 40</text>
<text transform="translate(444.8,667.7)" font-size="56" fill="#000" stroke="#000" stroke-width="1.1" stroke-linejoin="round" text-anchor="end" >0</text>
<clipPath id="nf2"><path clip-rule="evenodd" d="M-2000,-2000 H2000 V2000 H-2000 Z M-11.36,-4.45 H-1.99 V2.05 H-11.36 Z M3.48,-4.45 H12.40 V2.05 H3.48 Z"/></clipPath>
<text transform="translate(608.6,724)" clip-path="url(#nf2)" font-size="44" fill="#000" stroke="#000" stroke-width="1.1" stroke-linejoin="round" text-anchor="middle" >1</text>
<line x1="605.5" y1="124.8" x2="608" y2="124.8" stroke="#7a0c0c" stroke-width="3.5"/>
<line x1="605.5" y1="109.5" x2="605.5" y2="141.5" stroke="#7a0c0c" stroke-width="3.8"/>
<line x1="608" y1="109.5" x2="608" y2="141.5" stroke="#7a0c0c" stroke-width="3.8"/>
<line x1="606.7" y1="96.2" x2="606.7" y2="155.3" stroke="#650000" stroke-width="7.4"/>
<ellipse cx="606.7" cy="125.5" rx="12.45" ry="12.45" fill="none" stroke="#650000" stroke-width="6.9"/>
<line x1="599.6" y1="212.6" x2="672" y2="212.6" stroke="#7a0c0c" stroke-width="3.5"/>
<line x1="599.6" y1="197.3" x2="599.6" y2="229.3" stroke="#7a0c0c" stroke-width="3.8"/>
<line x1="672" y1="202.3" x2="672" y2="224.3" stroke="#7a0c0c" stroke-width="3.8"/>
<line x1="636" y1="184.0" x2="636" y2="243.10000000000002" stroke="#650000" stroke-width="7.4"/>
<ellipse cx="562.9" cy="213.3" rx="12.45" ry="12.45" fill="none" stroke="#650000" stroke-width="6.9"/>
<ellipse cx="661" cy="213.3" rx="12.45" ry="12.45" fill="none" stroke="#650000" stroke-width="6.9"/>
<ellipse cx="682.8" cy="213.3" rx="12.45" ry="12.45" fill="none" stroke="#650000" stroke-width="6.9"/>
<line x1="569.8" y1="299.8" x2="609.9" y2="299.8" stroke="#7a0c0c" stroke-width="3.5"/>
<line x1="569.8" y1="284.5" x2="569.8" y2="316.5" stroke="#7a0c0c" stroke-width="3.8"/>
<line x1="609.9" y1="284.5" x2="609.9" y2="316.5" stroke="#7a0c0c" stroke-width="3.8"/>
<line x1="588.1" y1="271.2" x2="588.1" y2="330.3" stroke="#650000" stroke-width="7.4"/>
<ellipse cx="564.6" cy="300.5" rx="12.45" ry="12.45" fill="none" stroke="#650000" stroke-width="6.9"/>
<ellipse cx="568.4" cy="300.5" rx="12.45" ry="12.45" fill="none" stroke="#650000" stroke-width="6.9"/>
<ellipse cx="629.7" cy="300.5" rx="12.45" ry="12.45" fill="none" stroke="#650000" stroke-width="6.9"/>
<line x1="559" y1="387.3" x2="616.9" y2="387.3" stroke="#7a0c0c" stroke-width="3.5"/>
<line x1="559" y1="372.0" x2="559" y2="404.0" stroke="#7a0c0c" stroke-width="3.8"/>
<line x1="616.9" y1="372.0" x2="616.9" y2="404.0" stroke="#7a0c0c" stroke-width="3.8"/>
<line x1="588.7" y1="358.7" x2="588.7" y2="417.8" stroke="#650000" stroke-width="7.4"/>
<ellipse cx="532.9" cy="388.0" rx="12.45" ry="12.45" fill="none" stroke="#650000" stroke-width="6.9"/>
<ellipse cx="598.6" cy="388.0" rx="12.45" ry="12.45" fill="none" stroke="#650000" stroke-width="6.9"/>
<ellipse cx="635.4" cy="388.0" rx="12.45" ry="12.45" fill="none" stroke="#650000" stroke-width="6.9"/>
<line x1="581" y1="474.2" x2="594.8" y2="474.2" stroke="#7a0c0c" stroke-width="3.5"/>
<line x1="581" y1="458.9" x2="581" y2="490.9" stroke="#7a0c0c" stroke-width="3.8"/>
<line x1="594.8" y1="466.9" x2="594.8" y2="482.9" stroke="#7a0c0c" stroke-width="3.8"/>
<line x1="582.4" y1="445.59999999999997" x2="582.4" y2="504.7" stroke="#650000" stroke-width="7.4"/>
<ellipse cx="562.3" cy="474.9" rx="12.45" ry="12.45" fill="none" stroke="#650000" stroke-width="6.9"/>
<ellipse cx="592.8" cy="474.9" rx="12.45" ry="12.45" fill="none" stroke="#650000" stroke-width="6.9"/>
<ellipse cx="596.4" cy="474.9" rx="12.45" ry="12.45" fill="none" stroke="#650000" stroke-width="6.9"/>
<line x1="550.8" y1="648.5" x2="612.5" y2="648.5" stroke="#7a0c0c" stroke-width="3.5"/>
<line x1="550.8" y1="633.1999999999999" x2="550.8" y2="665.1999999999999" stroke="#7a0c0c" stroke-width="3.8"/>
<line x1="612.5" y1="633.1999999999999" x2="612.5" y2="665.1999999999999" stroke="#7a0c0c" stroke-width="3.8"/>
<line x1="580.9" y1="619.9" x2="580.9" y2="678.9999999999999" stroke="#650000" stroke-width="7.4"/>
<ellipse cx="537.9" cy="649.1999999999999" rx="12.45" ry="12.45" fill="none" stroke="#650000" stroke-width="6.9"/>
<ellipse cx="560.8" cy="649.1999999999999" rx="12.45" ry="12.45" fill="none" stroke="#650000" stroke-width="6.9"/>
<ellipse cx="642.6" cy="649.1999999999999" rx="12.45" ry="12.45" fill="none" stroke="#650000" stroke-width="6.9"/>
<text transform="translate(457.8,778.9)" font-size="54.9" fill="#000" stroke="#000" stroke-width="1.1" stroke-linejoin="round" text-anchor="start" word-spacing="-3.5">Fold-change P<tspan x="354.2" y="11.6" font-size="42" word-spacing="0">o</tspan></text>
<path d="M904.6,106.6 H924.3 V558.7 H904.6" fill="none" stroke="#000" stroke-width="3.8"/>
<line x1="904.6" y1="220.4" x2="924.3" y2="220.4" stroke="#000" stroke-width="3.8"/>
<line x1="904.6" y1="331.2" x2="924.3" y2="331.2" stroke="#000" stroke-width="3.8"/>
<line x1="904.6" y1="444.9" x2="924.3" y2="444.9" stroke="#000" stroke-width="3.8"/>
<text transform="translate(893,137) scale(0.985,1)" font-size="56" fill="#000" stroke="#000" stroke-width="1.1" stroke-linejoin="round" text-anchor="end" >0.20</text>
<clipPath id="nf3"><path clip-rule="evenodd" d="M-2000,-2000 H2000 V2000 H-2000 Z M-61.17,-5.35 H-49.03 V2.05 H-61.17 Z M-42.51,-5.35 H-30.93 V2.05 H-42.51 Z"/></clipPath>
<text transform="translate(881.6,242.2) scale(0.985,1)" clip-path="url(#nf3)" font-size="56" fill="#000" stroke="#000" stroke-width="1.1" stroke-linejoin="round" text-anchor="end" >0.15</text>
<clipPath id="nf4"><path clip-rule="evenodd" d="M-2000,-2000 H2000 V2000 H-2000 Z M-61.17,-5.35 H-49.03 V2.05 H-61.17 Z M-42.51,-5.35 H-30.93 V2.05 H-42.51 Z"/></clipPath>
<text transform="translate(890.5,348.4) scale(0.985,1)" clip-path="url(#nf4)" font-size="56" fill="#000" stroke="#000" stroke-width="1.1" stroke-linejoin="round" text-anchor="end" >0.10</text>
<text transform="translate(890.5,462.2) scale(0.985,1)" font-size="56" fill="#000" stroke="#000" stroke-width="1.1" stroke-linejoin="round" text-anchor="end" >0.05</text>
<text transform="translate(893,573) scale(0.985,1)" font-size="56" fill="#000" stroke="#000" stroke-width="1.1" stroke-linejoin="round" text-anchor="end" >0.00</text>
<text transform="translate(799.6,42)" font-size="55.2" fill="#000" stroke="#000" stroke-width="1.1" stroke-linejoin="round" text-anchor="start" >nP<tspan x="65.9" y="11" font-size="42" word-spacing="0">o</tspan></text>
<text transform="translate(1010,41.5)" font-size="54.5" fill="#0000ff" stroke="#0000ff" stroke-width="1.1" stroke-linejoin="round" text-anchor="start" >WT</text>
<text transform="translate(1130,41.5)" font-size="54.5" fill="#5c0000" stroke="#5c0000" stroke-width="1.1" stroke-linejoin="round" text-anchor="start" letter-spacing="1.3">ΔCTD</text>
<line x1="996.7" y1="630" x2="1293.8" y2="630" stroke="#000" stroke-width="4.4"/>
<line x1="1035.4" y1="630" x2="1035.4" y2="647.3" stroke="#000" stroke-width="4.6"/>
<line x1="1109.7" y1="630" x2="1109.7" y2="647.3" stroke="#000" stroke-width="4.6"/>
<line x1="1183.1" y1="630" x2="1183.1" y2="647.3" stroke="#000" stroke-width="4.6"/>
<line x1="1257.4" y1="630" x2="1257.4" y2="647.3" stroke="#000" stroke-width="4.6"/>
<text transform="translate(1056.9,660.5) rotate(-90)" font-size="54" fill="#000" stroke="#000" stroke-width="1.1" stroke-linejoin="round" text-anchor="end" >0</text>
<text transform="translate(1130.2,660.6) rotate(-90)" letter-spacing="-1.5" font-size="54" fill="#000" stroke="#000" stroke-width="1.1" stroke-linejoin="round" text-anchor="end" >-40</text>
<text transform="translate(1202.2,660.8) rotate(-90)" font-size="54" fill="#000" stroke="#000" stroke-width="1.1" stroke-linejoin="round" text-anchor="end" >0</text>
<text transform="translate(1276.2,660.6) rotate(-90)" letter-spacing="-1.5" font-size="54" fill="#000" stroke="#000" stroke-width="1.1" stroke-linejoin="round" text-anchor="end" >-40</text>
<text transform="translate(862.8,786)" font-size="55.3" fill="#000" stroke="#000" stroke-width="1.1" stroke-linejoin="round" text-anchor="start" >Pressure (mmHg)</text>
<path d="M1025.9,187.3 V163.5 H1108 V187.3" fill="none" stroke="#000" stroke-width="7" stroke-linejoin="round"/>
<path d="M1180,343 V320 H1261.5 V341" fill="none" stroke="#000" stroke-width="7" stroke-linejoin="round"/>
<text transform="translate(1068.2,170.0) scale(1.08,1)" font-size="51" fill="#000" stroke="#000" stroke-width="0.6" stroke-linejoin="round" text-anchor="middle" font-weight="bold">*</text>
<text transform="translate(1220.4,303.4)" font-size="56" fill="#000" stroke="#000" stroke-width="1.1" stroke-linejoin="round" text-anchor="middle" >ns</text>
<line x1="1034.9" y1="475.6" x2="1034.9" y2="556" stroke="#0000ff" stroke-width="4.4"/>
<line x1="1020.9000000000001" y1="475.6" x2="1048.9" y2="475.6" stroke="#0000ff" stroke-width="4.4"/>
<ellipse cx="1034.9" cy="440" rx="11.1" ry="11.1" fill="none" stroke="#0000ff" stroke-width="8.2"/>
<ellipse cx="1034.9" cy="500.8" rx="11.1" ry="10.4" fill="none" stroke="#0000ff" stroke-width="8.2"/>
<ellipse cx="1023.2" cy="529.8" rx="11.1" ry="11.1" fill="none" stroke="#0000ff" stroke-width="7.6"/>
<ellipse cx="1031.5" cy="542" rx="11.1" ry="11.1" fill="none" stroke="#0000ff" stroke-width="7.6"/>
<ellipse cx="1037" cy="547.5" rx="11.1" ry="11.1" fill="none" stroke="#0000ff" stroke-width="7.6"/>
<ellipse cx="1042.5" cy="552.5" rx="11.1" ry="11.1" fill="none" stroke="#0000ff" stroke-width="7.6"/>
<ellipse cx="1046.8" cy="556.5" rx="11.1" ry="11.1" fill="none" stroke="#0000ff" stroke-width="7.6"/>
<line x1="1010" y1="520.2" x2="1060.5" y2="520.2" stroke="#111" stroke-width="4.3"/>
<line x1="1109.2" y1="265.1" x2="1109.2" y2="508.5" stroke="#0000ff" stroke-width="4.4"/>
<line x1="1095.2" y1="508.5" x2="1123.2" y2="508.5" stroke="#0000ff" stroke-width="4.4"/>
<line x1="1083.2" y1="386.8" x2="1135.2" y2="386.8" stroke="#0000ff" stroke-width="4.2"/>
<line x1="1099" y1="265.5" x2="1119" y2="265.5" stroke="#0000ff" stroke-width="4"/>
<ellipse cx="1109.2" cy="226.7" rx="11.1" ry="11.1" fill="none" stroke="#0000ff" stroke-width="8.2"/>
<ellipse cx="1109.2" cy="272.1" rx="11.1" ry="11.1" fill="none" stroke="#0000ff" stroke-width="8.2"/>
<ellipse cx="1109.2" cy="362.8" rx="11.1" ry="11.1" fill="none" stroke="#0000ff" stroke-width="8.2"/>
<ellipse cx="1097.7" cy="453.1" rx="11.1" ry="11.1" fill="none" stroke="#0000ff" stroke-width="8.2"/>
<ellipse cx="1119.2" cy="471.8" rx="11.1" ry="11.1" fill="none" stroke="#0000ff" stroke-width="8.2"/>
<ellipse cx="1109.2" cy="535.4" rx="11.1" ry="11.1" fill="none" stroke="#0000ff" stroke-width="8.2"/>
<line x1="1182.2" y1="400.2" x2="1182.2" y2="508" stroke="#7a0c0c" stroke-width="4.4"/>
<line x1="1168.2" y1="400.2" x2="1196.2" y2="400.2" stroke="#7a0c0c" stroke-width="4.4"/>
<line x1="1168.2" y1="508" x2="1196.2" y2="508" stroke="#7a0c0c" stroke-width="4.4"/>
<line x1="1156.2" y1="454.2" x2="1208.2" y2="454.2" stroke="#7a0c0c" stroke-width="4.2"/>
<ellipse cx="1182.5" cy="378.6" rx="11.8" ry="10.6" fill="none" stroke="#650000" stroke-width="7.2"/>
<ellipse cx="1182.5" cy="455.4" rx="11.8" ry="10.6" fill="none" stroke="#650000" stroke-width="7.2"/>
<ellipse cx="1170.9" cy="482.6" rx="11.8" ry="10.6" fill="none" stroke="#650000" stroke-width="7.2"/>
<ellipse cx="1194.5" cy="500.6" rx="11.8" ry="10.6" fill="none" stroke="#650000" stroke-width="7.2"/>
<line x1="1256.6" y1="411" x2="1256.6" y2="530" stroke="#7a0c0c" stroke-width="4.4"/>
<line x1="1242.6" y1="411" x2="1270.6" y2="411" stroke="#7a0c0c" stroke-width="4.4"/>
<line x1="1242.6" y1="530" x2="1270.6" y2="530" stroke="#7a0c0c" stroke-width="4.4"/>
<line x1="1230.6" y1="469.9" x2="1282.6" y2="469.9" stroke="#7a0c0c" stroke-width="4.2"/>
<ellipse cx="1256.6" cy="406.3" rx="14.5" ry="13.3" fill="none" stroke="#650000" stroke-width="8.2"/>
<ellipse cx="1256.6" cy="478.4" rx="14.5" ry="13.3" fill="none" stroke="#650000" stroke-width="8.2"/>
<ellipse cx="1256.6" cy="526.2" rx="14.5" ry="13.3" fill="none" stroke="#650000" stroke-width="8.2"/>
</g>
</svg>
</body></html>
